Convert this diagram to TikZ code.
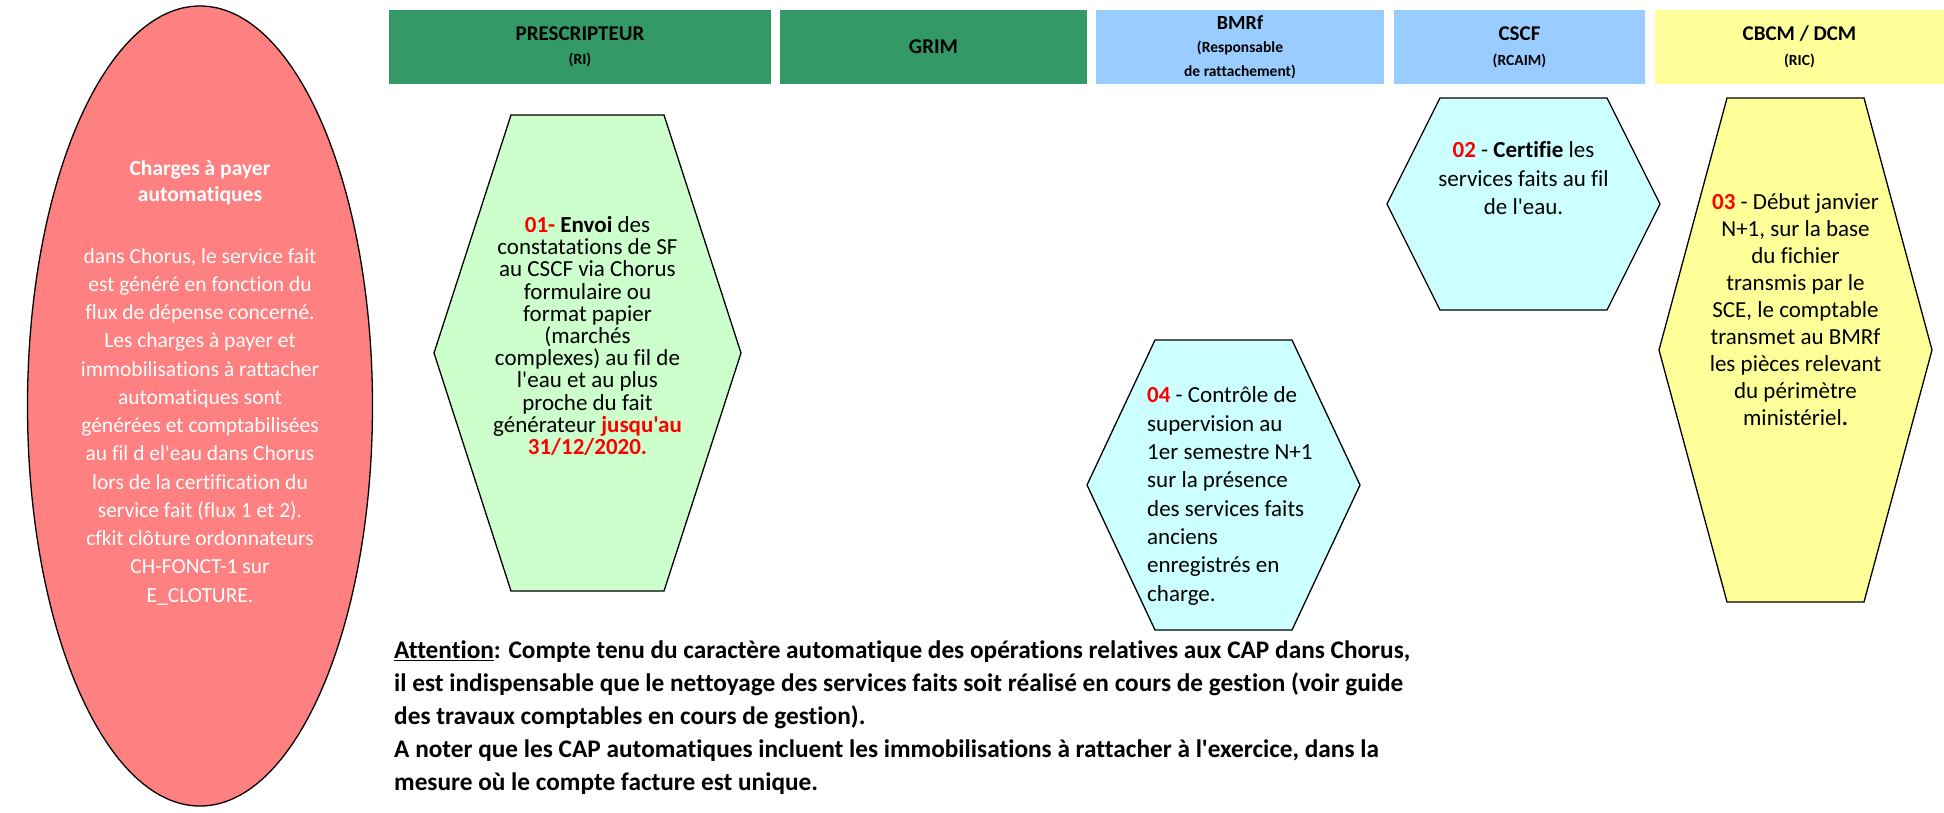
\documentclass[tikz,border=0pt]{standalone}
\usepackage{fontspec}
\setmainfont{Carlito}[Ligatures={TeXOff,CommonOff}]
\usetikzlibrary{shapes.geometric}

\definecolor{hdgreen}{HTML}{339966}
\definecolor{hdblue}{HTML}{99CCFF}
\definecolor{hdyellow}{HTML}{FFFF99}
\definecolor{capred}{HTML}{FF8080}
\definecolor{stepgreen}{HTML}{CCFFCC}
\definecolor{stepcyan}{HTML}{CCFFFF}
\definecolor{numred}{HTML}{FF0000}

% font size / baseline skip in pt
\newcommand\fs[2]{\fontsize{#1pt}{#2pt}\selectfont}
% red bold step number
\newcommand\stepno[1]{\textcolor{numred}{\textbf{#1}}}
% Excel-like hexagon: left x, top y, right x, bottom y, inset, fill
\newcommand\hexagonat[6]{%
  \filldraw[fill=#6, draw=black, line width=1.3pt, line join=miter]
    (#1,{(#2+#4)/2}) -- ({#1+#5},#2) -- ({#3-#5},#2) -- (#3,{(#2+#4)/2})
    -- ({#3-#5},#4) -- ({#1+#5},#4) -- cycle;}

\begin{document}
\begin{tikzpicture}[x=1pt, y=-1pt,
  header/.style={minimum height=74, inner sep=0, align=center},
  steptext/.style={inner sep=0, align=center, font=\fs{23}{27}},
  captext/.style={inner sep=0, align=center, text=white, font=\fs{21.5}{28.25}}]

\useasboundingbox (0,0) rectangle (1944,812);
\fill[white] (0,0) rectangle (1944,812);

% column headers
\node[header, fill=hdgreen, minimum width=382, font=\bfseries\fs{21}{24}] (presc) at (580,47)
  {PRESCRIPTEUR\\\fs{15.5}{24}(RI)};
\node[header, fill=hdgreen, minimum width=307, font=\bfseries\fs{21}{24}] (grim) at (933.5,47)
  {GRIM};
\node[header, fill=hdblue, minimum width=288, font=\bfseries\fs{20}{23.5}] (bmrf) at (1240,47)
  {BMRf\\\fs{15.5}{23.5}(Responsable\\\fs{15.5}{23.5}de rattachement)};
\node[header, fill=hdblue, minimum width=251, font=\bfseries\fs{21}{25}] (cscf) at (1519.5,47)
  {CSCF\\\fs{15.5}{25}(RCAIM)};
\node[header, fill=hdyellow, minimum width=289, font=\bfseries\fs{21}{25}] (cbcm) at (1799.5,47)
  {CBCM / DCM\\\fs{15.5}{25}(RIC)};

% automatic accrued charges
\node[ellipse, draw=black, line width=1.3pt, fill=capred, inner sep=0,
  minimum width=345, minimum height=800] (cap) at (200,406) {};
\node[captext, font=\bfseries\fs{21.5}{26}] (captitle) at (200,183)
  {Charges à payer\\automatiques};
\node[captext] (capbody) at (200,426.5)
  {dans Chorus, le service fait\\
   est généré en fonction du\\
   flux de dépense concerné.\\
   Les charges à payer et\\
   immobilisations à rattacher\\
   automatiques sont\\
   générées et comptabilisées\\
   au fil d el'eau dans Chorus\\
   lors de la certification du\\
   service fait (flux 1 et 2).\\
   cfkit clôture ordonnateurs\\
   CH-FONCT-1 sur\\
   E\_CLOTURE.};

% process steps
\hexagonat{434}{115}{741}{591}{77}{stepgreen}
\hexagonat{1387}{98}{1660}{310}{53}{stepcyan}
\hexagonat{1659}{98}{1932}{602}{68}{hdyellow}
\hexagonat{1087}{340}{1360}{630}{68}{stepcyan}

\node[steptext, font=\fs{23}{22.2}] (s01) at (587.5,336)
  {\stepno{01-} \textbf{Envoi} des\\
   constatations de SF\\
   au CSCF via Chorus\\
   formulaire ou\\
   format papier\\
   (marchés\\
   complexes) au fil de\\
   l'eau et au plus\\
   proche du fait\\
   générateur \stepno{jusqu'au}\\
   \stepno{31/12/2020.}};

\node[steptext, font=\fs{23}{28.5}] (s02) at (1523.5,178.5)
  {\stepno{02} - \textbf{Certifie} les\\
   services faits au fil\\
   de l'eau.};

\node[steptext, font=\fs{23}{27}] (s03) at (1795.5,310)
  {\stepno{03} - Début janvier\\
   N+1, sur la base\\
   du fichier\\
   transmis par le\\
   SCE, le comptable\\
   transmet au BMRf\\
   les pièces relevant\\
   du périmètre\\
   ministériel\textbf{.}};

\node[steptext, font=\fs{23}{28.3}, align=left, anchor=west] (s04) at (1147,496)
  {\stepno{04} - Contrôle de\\
   supervision au\\
   1er semestre N+1\\
   sur la présence\\
   des services faits\\
   anciens\\
   enregistrés en\\
   charge.};

% closing note
\node[inner sep=0, align=left, anchor=west, font=\bfseries\fs{25.3}{33}] (note) at (394,717.5)
  {\underline{Attention}: Compte tenu du caractère automatique des opérations relatives aux CAP dans Chorus,\\
   il est indispensable que le nettoyage des services faits soit réalisé en cours de gestion (voir guide\\
   des travaux comptables en cours de gestion).\\
   A noter que les CAP automatiques incluent les immobilisations à rattacher à l'exercice, dans la\\
   mesure où le compte facture est unique.};

\end{tikzpicture}
\end{document}
